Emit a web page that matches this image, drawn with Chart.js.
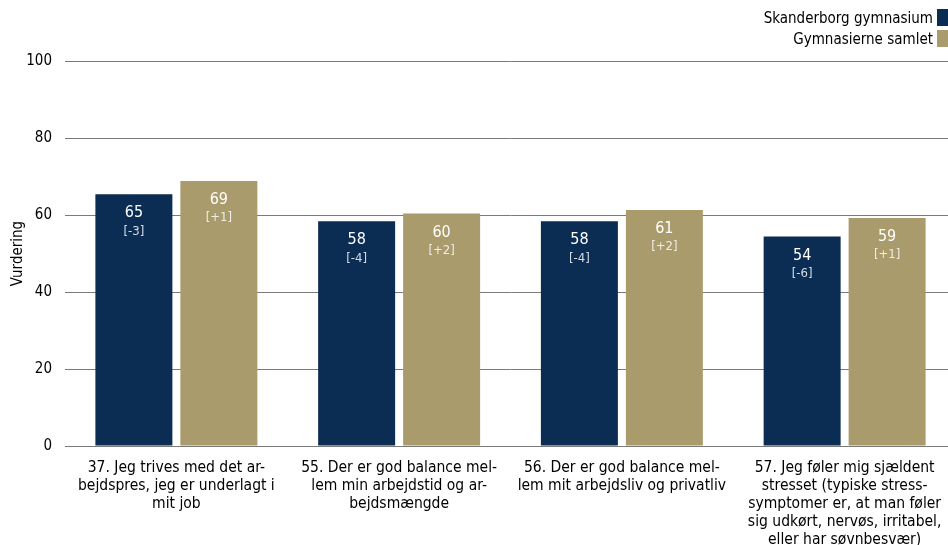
<!DOCTYPE html>
<html>
<head>
<meta charset="utf-8">
<script src="https://cdn.jsdelivr.net/npm/chart.js@4"></script>
<style>
  html, body { margin: 0; padding: 0; background: #fff; overflow: hidden; }
  #wrap { position: relative; width: 948px; height: 545px; overflow: hidden; }
  #box { position: absolute; left: 0; top: 0; width: 956px; height: 545px; }
  #legenda { position: absolute; right: 0; top: 7px; font-family: "DejaVu Sans Condensed", "DejaVu Sans", sans-serif; font-size: 15px; color: #000; }
  #legenda div { display: flex; justify-content: flex-end; align-items: center; height: 21px; }
  #legenda span.cor { display: inline-block; width: 11px; height: 17px; margin-left: 4px; }
</style>
</head>
<body>
<div id="wrap">
  <div id="box"><canvas id="graf"></canvas></div>
  <div id="legenda"></div>
</div>
<script>
const categorias = [
  ["37. Jeg trives med det ar-", "bejdspres, jeg er underlagt i", "mit job"],
  ["55. Der er god balance mel-", "lem min arbejdstid og ar-", "bejdsmængde"],
  ["56. Der er god balance mel-", "lem mit arbejdsliv og privatliv"],
  ["57. Jeg føler mig sjældent", "stresset (typiske stress-", "symptomer er, at man føler", "sig udkørt, nervøs, irritabel,", "eller har søvnbesvær)"]
]
const nomes = ["Skanderborg gymnasium", "Gymnasierne samlet"]
const skanderborg = [65.4, 58.4, 58.4, 54.4]
const samlet = [68.8, 60.4, 61.3, 59.2]
const difSkanderborg = ["[-3]", "[-4]", "[-4]", "[-6]"]
const difSamlet = ["[+1]", "[+2]", "[+2]", "[+1]"]
const cores = ["#0b2d54", "#a99b6b"]

const fonte = "DejaVu Sans Condensed"

// rótulos dentro das barras: valor e diferença
const rotulos = {
  id: "rotulos",
  afterDatasetsDraw(chart) {
    const ctx = chart.ctx
    const difs = [difSkanderborg, difSamlet]
    chart.data.datasets.forEach((ds, i) => {
      chart.getDatasetMeta(i).data.forEach((bar, j) => {
        ctx.save()
        ctx.textAlign = "center"
        ctx.textBaseline = "middle"
        ctx.fillStyle = "#ffffff"
        ctx.font = "16px '" + fonte + "'"
        ctx.fillText(Math.round(ds.data[j]), bar.x, bar.y + 19)
        ctx.fillStyle = "rgba(255,255,255,0.82)"
        ctx.font = "13px '" + fonte + "'"
        ctx.fillText(difs[i][j], bar.x, bar.y + 37)
        ctx.restore()
      })
    })
  }
}

const graf = document.getElementById("graf")
const myChart = new Chart(graf, {
  type: "bar",
  data: {
    labels: categorias,
    datasets: [
      { label: nomes[0], data: skanderborg, backgroundColor: cores[0] },
      { label: nomes[1], data: samlet, backgroundColor: cores[1] }
    ]
  },
  options: {
    responsive: true,
    maintainAspectRatio: false,
    animation: false,
    categoryPercentage: 0.763,
    barPercentage: 0.906,
    layout: { padding: { top: 61, left: 9, right: 0, bottom: 0 } },
    plugins: {
      legend: { display: false },
      tooltip: { enabled: false }
    },
    scales: {
      y: {
        min: 0,
        max: 100,
        afterFit: (s) => { s.width = 56 },
        ticks: { stepSize: 20, padding: 13, color: "#000", font: { family: fonte, size: 15 } },
        grid: { color: "#7a7a7a", drawTicks: false },
        border: { display: false },
        title: { display: true, text: "Vurdering", color: "#000", font: { family: fonte, size: 15 }, padding: { top: 0, bottom: 0 } }
      },
      x: {
        afterFit: (s) => { s.height = 99 },
        ticks: { color: "#000", font: { family: fonte, size: 15.5, lineHeight: 1.16 }, maxRotation: 0, padding: 5 },
        grid: { display: false },
        border: { display: true, color: "#7a7a7a" }
      }
    }
  },
  plugins: [rotulos]
})

// legenda com a caixa à direita do texto
const legenda = document.getElementById("legenda")
nomes.forEach((n, i) => {
  const linha = document.createElement("div")
  linha.innerHTML = "<span>" + n + "</span><span class='cor' style='background:" + cores[i] + "'></span>"
  legenda.appendChild(linha)
})
</script>
</body>
</html>
